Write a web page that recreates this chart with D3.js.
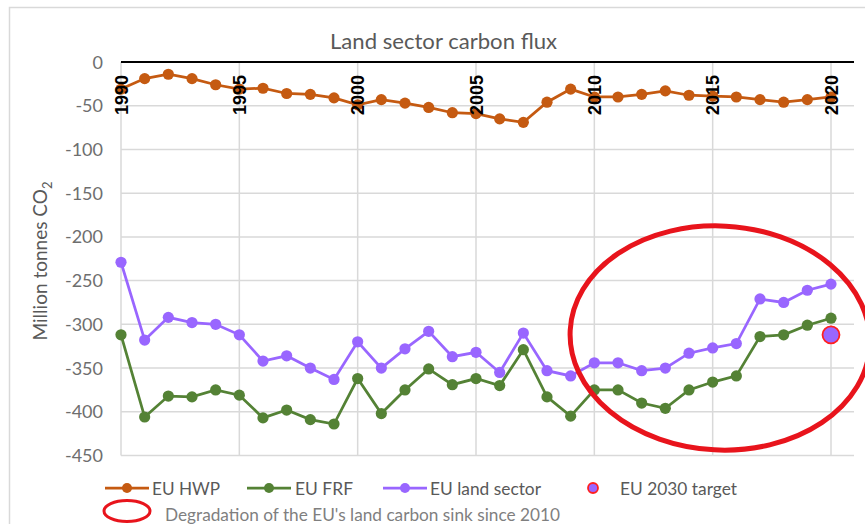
<!DOCTYPE html>
<html>
<head>
<meta charset="utf-8">
<script src="https://cdn.jsdelivr.net/npm/d3@7"></script>
<style>
  html, body { margin: 0; padding: 0; background: #fff; }
  svg { display: block; }
</style>
</head>
<body>
<svg id="chart" width="865" height="524"></svg>
<script>
const years = d3.range(1990, 2021);
const hwp = [-31, -19, -14, -19, -26, -31, -30, -36, -37, -41, -49, -43, -47, -52, -58, -59, -65, -69, -46, -31,
             -40, -40, -37, -33, -38, -39, -40, -43, -46, -43, -40];
const frf = [-312, -406, -382, -383, -375, -381, -407, -398, -409, -414, -362, -402, -375, -351, -369, -362, -370, -329, -383, -405,
             -375, -375, -390, -396, -375, -366, -359, -314, -312, -301, -293];
const land = [-229, -318, -292, -298, -300, -312, -342, -336, -350, -363, -320, -350, -328, -308, -337, -332, -355, -310, -353, -359,
              -344, -344, -353, -350, -333, -327, -322, -271, -275, -261, -254];
const target = [{year: 2020, value: -312}];
const yTicks = [0, -50, -100, -150, -200, -250, -300, -350, -400, -450];
const xTicks = [1990, 1995, 2000, 2005, 2010, 2015, 2020];
const seriesNames = ["EU HWP", "EU FRF", "EU land sector"];
const seriesColors = ["#c55a11", "#548235", "#9966ff"];
const targetLabel = "EU 2030 target";
const ellipseLabel = "Degradation of the EU's land carbon sink since 2010";
const title = "Land sector carbon flux";

const svg = d3.select("#chart");
const left = 121, right = 854;
const x = d3.scaleLinear().domain([1990, 2020]).range([121, 831]);
const y = d3.scaleLinear().domain([-450, 0]).range([455.5, 62]);

const textFont = "Lato, 'Open Sans', sans-serif";
const gray = "#595959";

// frame
svg.append("rect").attr("x", 9.5).attr("y", 7.5).attr("width", 900).attr("height", 600)
  .attr("fill", "none").attr("stroke", "#d9d9d9").attr("stroke-width", 1.5);

// horizontal gridlines
svg.append("g").selectAll("line").data(yTicks.filter(d => d !== 0)).join("line")
  .attr("x1", left).attr("x2", right)
  .attr("y1", d => y(d)).attr("y2", d => y(d))
  .attr("stroke", "#d9d9d9").attr("stroke-width", 1.5);
// vertical gridlines
svg.append("g").selectAll("line").data(xTicks).join("line")
  .attr("x1", d => x(d)).attr("x2", d => x(d))
  .attr("y1", y(0)).attr("y2", y(-450))
  .attr("stroke", "#d9d9d9").attr("stroke-width", 1.5);
// zero line
svg.append("line").attr("x1", left).attr("x2", right).attr("y1", y(0)).attr("y2", y(0))
  .attr("stroke", "#000").attr("stroke-width", 2);

// y tick labels
svg.append("g").selectAll("text").data(yTicks).join("text")
  .attr("x", 103).attr("y", d => y(d) + 6.5)
  .attr("text-anchor", "end")
  .attr("font-family", textFont).attr("font-size", 18).attr("fill", "#6e6e6e")
  .text(d => d);

// y axis title
const yt = svg.append("text")
  .attr("transform", "translate(47,261) rotate(-90)")
  .attr("text-anchor", "middle")
  .attr("font-family", textFont).attr("font-size", 19).attr("fill", gray);
yt.append("tspan").text("Million tonnes CO");
yt.append("tspan").attr("font-size", 13).attr("dy", 5).text("2");

// title
svg.append("text").attr("x", 443.5).attr("y", 49).attr("text-anchor", "middle")
  .attr("font-family", textFont).attr("font-size", 21).attr("fill", gray)
  .attr("textLength", 227).attr("lengthAdjust", "spacingAndGlyphs")
  .text(title);

// series
const series = [hwp, frf, land];
const line = d3.line().x((d, i) => x(years[i])).y(d => y(d));
series.forEach((vals, si) => {
  const g = svg.append("g");
  g.append("path").datum(vals).attr("d", line)
    .attr("fill", "none").attr("stroke", seriesColors[si]).attr("stroke-width", 2.75);
  g.selectAll("circle").data(vals).join("circle")
    .attr("cx", (d, i) => x(years[i])).attr("cy", d => y(d)).attr("r", 5.6)
    .attr("fill", seriesColors[si]);
});

// x tick labels (rotated, bold)
svg.append("g").selectAll("text").data(xTicks).join("text")
  .attr("transform", d => `translate(${x(d) + 6.5},115) rotate(-90)`)
  .attr("text-anchor", "start")
  .attr("font-family", "'Liberation Sans', Arial, sans-serif").attr("font-weight", "bold")
  .attr("font-size", 18).attr("fill", "#000")
  .text(d => d);

// target
svg.append("g").selectAll("circle").data(target).join("circle")
  .attr("cx", d => x(d.year)).attr("cy", d => y(d.value)).attr("r", 8.5)
  .attr("fill", "#9966ff").attr("stroke", "#ff2020").attr("stroke-width", 1.8);

// red ellipse annotation
svg.append("ellipse").attr("cx", 720).attr("cy", 338).attr("rx", 150).attr("ry", 112)
  .attr("transform", "rotate(3,720,338)")
  .attr("fill", "none").attr("stroke", "#e8141c").attr("stroke-width", 5);

// legend
const legItems = [
  {name: seriesNames[0], color: seriesColors[0], lx: 105, tx: 152, tw: 68},
  {name: seriesNames[1], color: seriesColors[1], lx: 247, tx: 295, tw: 58},
  {name: seriesNames[2], color: seriesColors[2], lx: 383, tx: 430, tw: 111}
];
const legY = 488;
const lg = svg.append("g");
legItems.forEach(it => {
  lg.append("line").attr("x1", it.lx).attr("x2", it.lx + 44).attr("y1", legY).attr("y2", legY)
    .attr("stroke", it.color).attr("stroke-width", 2.75);
  lg.append("circle").attr("cx", it.lx + 22).attr("cy", legY).attr("r", 5).attr("fill", it.color);
  lg.append("text").attr("x", it.tx).attr("y", legY + 6.5)
    .attr("font-family", textFont).attr("font-size", 18).attr("fill", gray)
    .attr("textLength", it.tw).attr("lengthAdjust", "spacingAndGlyphs")
    .text(it.name);
});
lg.append("circle").attr("cx", 593).attr("cy", legY).attr("r", 5)
  .attr("fill", "#9966ff").attr("stroke", "#ff2020").attr("stroke-width", 1.8);
lg.append("text").attr("x", 620).attr("y", legY + 6.5)
  .attr("font-family", textFont).attr("font-size", 18).attr("fill", gray)
  .attr("textLength", 117).attr("lengthAdjust", "spacingAndGlyphs")
  .text(targetLabel);
lg.append("ellipse").attr("cx", 127).attr("cy", 511).attr("rx", 23).attr("ry", 10.5)
  .attr("fill", "none").attr("stroke", "#e8141c").attr("stroke-width", 3);
lg.append("text").attr("x", 165).attr("y", 521)
  .attr("font-family", textFont).attr("font-size", 17).attr("fill", "#7f7f7f")
  .attr("textLength", 395).attr("lengthAdjust", "spacingAndGlyphs")
  .text(ellipseLabel);
</script>
</body>
</html>
